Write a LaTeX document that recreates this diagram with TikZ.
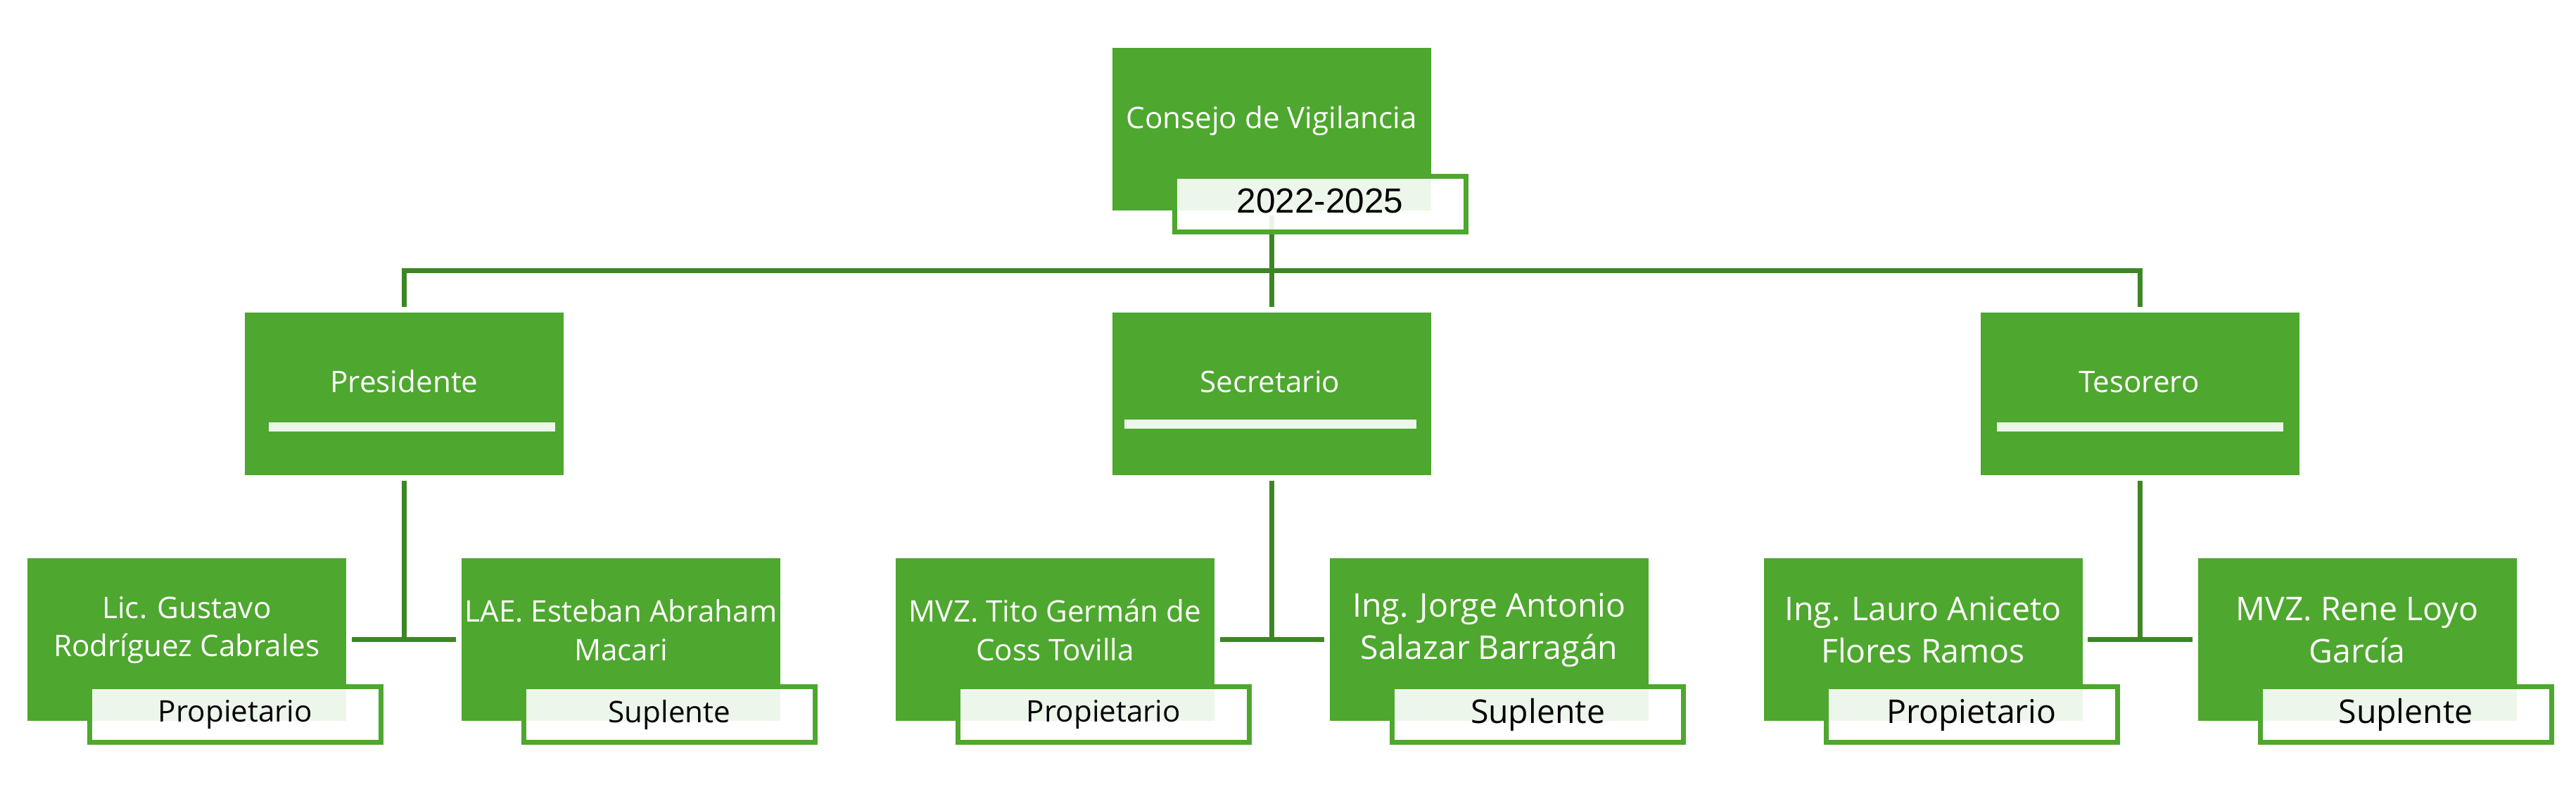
\documentclass[tikz,border=0pt]{standalone}
\usepackage{fontspec}
\setmainfont{Open Sans}
\newfontfamily\yearfont{Liberation Sans}
\usepackage{tikz}
\usetikzlibrary{positioning}
\definecolor{cgreen}{HTML}{4EA72E}
\definecolor{cline}{HTML}{3E8625}
\definecolor{cpale}{HTML}{EDF6EA}
\newcommand{\sizea}{\fontsize{12pt}{15.6pt}\selectfont}
\newcommand{\sizeb}{\fontsize{13.2pt}{17.1pt}\selectfont}

\begin{document}
\begin{tikzpicture}[
  unitbox/.style={fill=cgreen,minimum width=4.53cm,minimum height=2.31cm,inner sep=0pt},
  rolebox/.style={draw=cgreen,line width=0.07cm,fill=white,fill opacity=0.9,text opacity=1,minimum width=4.14cm,minimum height=0.79cm,inner sep=0pt,text depth=0.25em},
  whotext/.style={text=white,align=center,inner sep=0pt},
  link/.style={draw=cline,line width=0.07cm,shorten <=0.07cm,shorten >=0.07cm}]
  \useasboundingbox (0,0) rectangle (36.61,-11.17);

  % green boxes
  \node[unitbox] (council) at (18.07,-1.83) {};
  \node[unitbox] (pres) at (5.745,-5.595) {};
  \node[unitbox] (secr) at (18.07,-5.595) {};
  \node[unitbox] (teso) at (30.415,-5.595) {};
  \node[unitbox] (lic) at (2.655,-9.08) {};
  \node[unitbox] (lae) at (8.825,-9.08) {};
  \node[unitbox] (tito) at (14.995,-9.08) {};
  \node[unitbox] (jorge) at (21.165,-9.08) {};
  \node[unitbox] (lauro) at (27.33,-9.08) {};
  \node[unitbox] (rene) at (33.50,-9.08) {};

  % pale bars
  \fill[cpale] (3.82,-6.00) rectangle (7.89,-6.13);
  \fill[cpale] (15.98,-5.96) rectangle (20.13,-6.09);
  \fill[cpale] (28.38,-6.00) rectangle (32.45,-6.13);

  % texts on the boxes
  \node[whotext,font=\sizea,anchor=base] (councilt) at (18.07,-1.82) {Consejo de Vigilancia};
  \node[whotext,font=\sizea,anchor=base] (prest) at (5.745,-5.57) {Presidente};
  \node[whotext,font=\sizea,anchor=base] (secrt) at (18.05,-5.57) {Secretario};
  \node[whotext,font=\sizea,anchor=base] (tesot) at (30.40,-5.57) {Tesorero};
  \node[whotext,font=\sizea] (lict) at (2.655,-8.95) {Lic. Gustavo\\Rodríguez Cabrales};
  \node[whotext,font=\sizea] (laet) at (8.825,-8.95) {LAE. Esteban Abraham\\Macari};
  \node[whotext,font=\sizea] (titot) at (14.995,-8.95) {MVZ. Tito Germán de\\Coss Tovilla};
  \node[whotext,font=\sizeb] (jorget) at (21.165,-8.95) {Ing. Jorge Antonio\\Salazar Barragán};
  \node[whotext,font=\sizeb] (laurot) at (27.33,-8.95) {Ing. Lauro Aniceto\\Flores Ramos};
  \node[whotext,font=\sizeb] (renet) at (33.50,-8.95) {MVZ. Rene Loyo\\García};

  % connectors
  \coordinate (split) at (18.07,-3.845);
  \draw[link] (council.south) -- (split) -| (pres.north);
  \draw[link] (council.south) -- (split) -| (secr.north);
  \draw[link] (council.south) -- (split) -| (teso.north);
  \draw[link] (pres.south) |- (lic.east);
  \draw[link] (pres.south) |- (lae.west);
  \draw[link] (secr.south) |- (tito.east);
  \draw[link] (secr.south) |- (jorge.west);
  \draw[link] (teso.south) |- (lauro.east);
  \draw[link] (teso.south) |- (rene.west);

  % tags
  \node[rolebox,font=\yearfont\fontsize{14.1pt}{17pt}\selectfont] (term) at (18.76,-2.90) {2022-2025};
  \node[rolebox,font=\sizea] (lictag) at (3.345,-10.145) {Propietario};
  \node[rolebox,font=\sizea] (laetag) at (9.515,-10.145) {Suplente};
  \node[rolebox,font=\sizea] (titotag) at (15.685,-10.145) {Propietario};
  \node[rolebox,font=\sizeb] (jorgetag) at (21.855,-10.145) {Suplente};
  \node[rolebox,font=\sizeb] (laurotag) at (28.02,-10.145) {Propietario};
  \node[rolebox,font=\sizeb] (renetag) at (34.19,-10.145) {Suplente};
\end{tikzpicture}
\end{document}
